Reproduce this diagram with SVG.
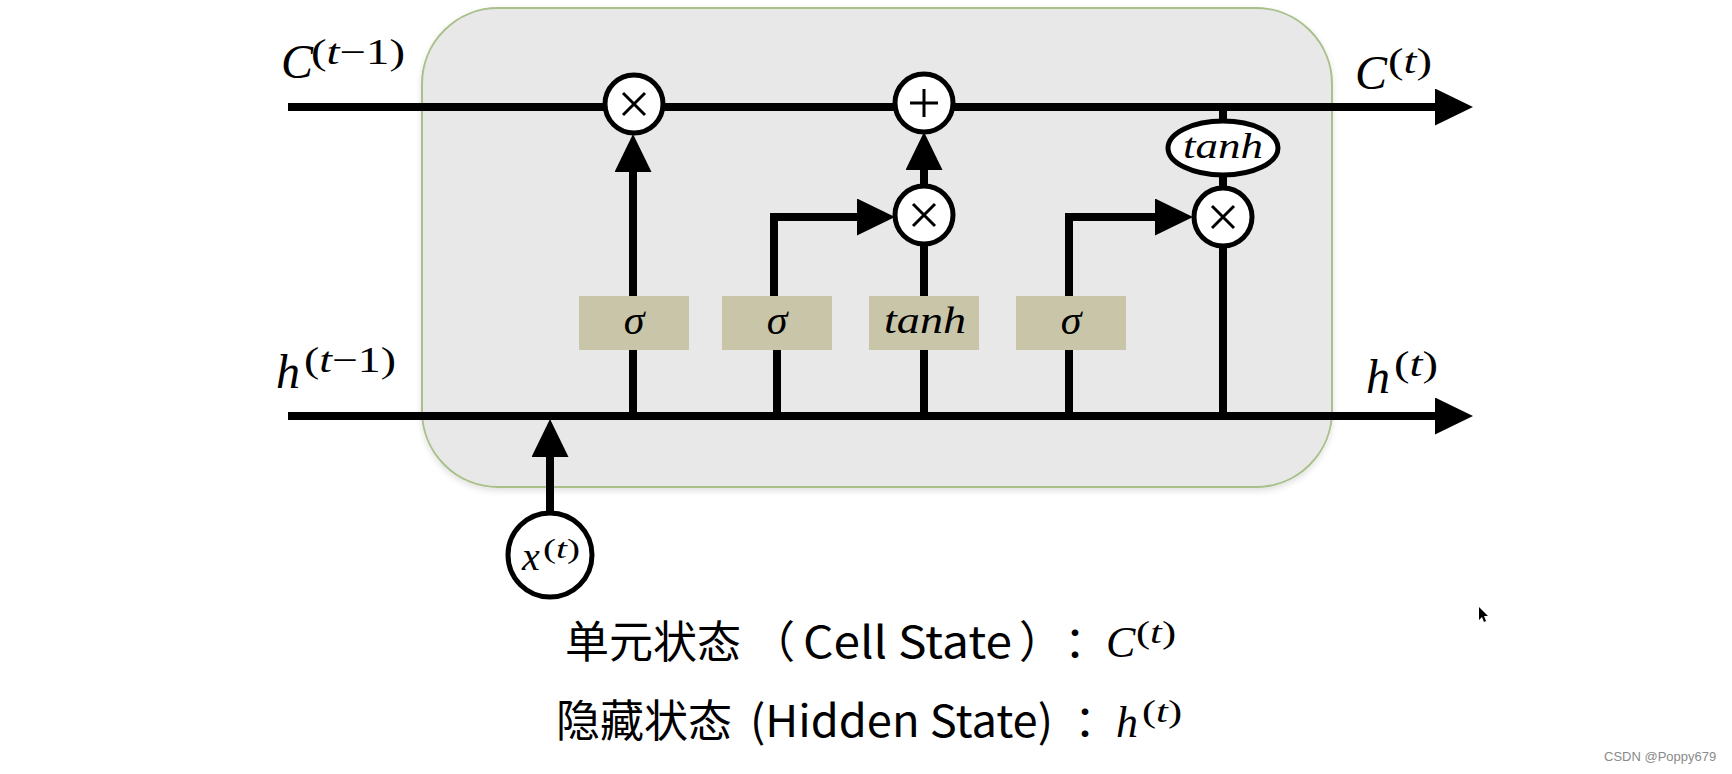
<svg xmlns="http://www.w3.org/2000/svg" width="1732" height="774" viewBox="0 0 1732 774">
<style>
.ln{stroke:#000;stroke-width:8;fill:none}
.op{fill:#fff;stroke:#000;stroke-width:5}
.sym{stroke:#000;stroke-width:3;fill:none}
.gate{fill:#c9c5a8}
.m{font-family:"Liberation Serif","DejaVu Serif",serif;font-style:italic;fill:#000}
.up{font-style:normal}
.cap{font-family:"Noto Sans CJK SC","Noto Sans",sans-serif;font-size:44px;fill:#000}
</style>
<defs>
<marker id="ah" markerUnits="userSpaceOnUse" markerWidth="40" markerHeight="40" refX="0" refY="18.5" orient="auto" viewBox="0 0 40 40">
<path d="M0,0 L38,18.5 L0,37 z" fill="#000"/>
</marker>
<filter id="sh" x="-5%" y="-5%" width="110%" height="110%">
<feDropShadow dx="0" dy="3" stdDeviation="3" flood-color="#000" flood-opacity="0.12"/>
</filter>
</defs>
<rect width="1732" height="774" fill="#fff"/>
<g id="cell">
<rect x="422" y="8" width="910" height="479" rx="76" ry="76" fill="#e8e8e8" stroke="#a9c08a" stroke-width="2" filter="url(#sh)"/>
</g>
<g id="connectors">
<path class="ln" d="M288,107 H1435" marker-end="url(#ah)"/>
<path class="ln" d="M288,416 H1435" marker-end="url(#ah)"/>
<path class="ln" d="M633,416 V172" marker-end="url(#ah)"/>
<path class="ln" d="M777,416 V340"/>
<path class="ln" d="M774,300 V217 H857" marker-end="url(#ah)"/>
<path class="ln" d="M924,416 V246"/>
<path class="ln" d="M924,188 V170" marker-end="url(#ah)"/>
<path class="ln" d="M1069,416 V340"/>
<path class="ln" d="M1069,300 V217 H1155" marker-end="url(#ah)"/>
<path class="ln" d="M1223,416 V240"/>
<path class="ln" d="M1223,190 V170"/>
<path class="ln" d="M1223,125 V107"/>
<path class="ln" d="M550,513 V457" marker-end="url(#ah)"/>
</g>
<g id="forget-mul">
<circle class="op" cx="634" cy="104" r="29"/>
<path class="sym" d="M623,93 L645,115 M645,93 L623,115"/>
</g>
<g id="add">
<circle class="op" cx="924" cy="103" r="29"/>
<path class="sym" d="M910,103 H938 M924,89 V117"/>
</g>
<g id="input-mul">
<circle class="op" cx="924" cy="215" r="29"/>
<path class="sym" d="M913,204 L935,226 M935,204 L913,226"/>
</g>
<g id="output-mul">
<circle class="op" cx="1223" cy="217" r="29"/>
<path class="sym" d="M1212,206 L1234,228 M1234,206 L1212,228"/>
</g>
<g id="tanh-out">
<ellipse class="op" cx="1223" cy="148" rx="55" ry="27"/>
<text class="m" x="1183" y="158" font-size="36" textLength="80" lengthAdjust="spacingAndGlyphs">tanh</text>
</g>
<g id="sigma-forget">
<rect class="gate" x="579" y="296" width="110" height="54"/>
<text class="m" x="634" y="334" font-size="42" text-anchor="middle">σ</text>
</g>
<g id="sigma-input">
<rect class="gate" x="722" y="296" width="110" height="54"/>
<text class="m" x="777" y="334" font-size="42" text-anchor="middle">σ</text>
</g>
<g id="tanh-cand">
<rect class="gate" x="869" y="296" width="110" height="54"/>
<text class="m" x="884" y="333" font-size="37" textLength="82" lengthAdjust="spacingAndGlyphs">tanh</text>
</g>
<g id="sigma-output">
<rect class="gate" x="1016" y="296" width="110" height="54"/>
<text class="m" x="1071" y="334" font-size="42" text-anchor="middle">σ</text>
</g>
<g id="x-input">
<circle class="op" cx="550" cy="555" r="42"/>
<text class="m" x="522" y="570" font-size="40">x</text>
<text class="m" x="543" y="558" font-size="28" textLength="37" lengthAdjust="spacingAndGlyphs"><tspan class="up">(</tspan>t<tspan class="up">)</tspan></text>
</g>
<g id="labels">
<text class="m" x="281" y="78" font-size="48">C</text>
<text class="m" x="311" y="64" font-size="35" textLength="94" lengthAdjust="spacingAndGlyphs"><tspan class="up">(</tspan>t<tspan class="up">−1)</tspan></text>
<text class="m" x="276" y="388" font-size="48">h</text>
<text class="m" x="304" y="372" font-size="35" textLength="92" lengthAdjust="spacingAndGlyphs"><tspan class="up">(</tspan>t<tspan class="up">−1)</tspan></text>
<text class="m" x="1355" y="89" font-size="48">C</text>
<text class="m" x="1388" y="73" font-size="35" textLength="44" lengthAdjust="spacingAndGlyphs"><tspan class="up">(</tspan>t<tspan class="up">)</tspan></text>
<text class="m" x="1366" y="393" font-size="48">h</text>
<text class="m" x="1394" y="376" font-size="35" textLength="44" lengthAdjust="spacingAndGlyphs"><tspan class="up">(</tspan>t<tspan class="up">)</tspan></text>
</g>
<g id="legend">
<text class="cap" y="658"><tspan x="565">单元状态</tspan><tspan x="751">（</tspan><tspan x="803" textLength="209" lengthAdjust="spacingAndGlyphs">Cell State</tspan><tspan x="1019">）</tspan><tspan x="1064">：</tspan></text>
<text class="m" x="1106" y="657" font-size="44">C</text>
<text class="m" x="1136" y="643" font-size="31" textLength="40" lengthAdjust="spacingAndGlyphs"><tspan class="up">(</tspan>t<tspan class="up">)</tspan></text>
<text class="cap" y="737"><tspan x="556">隐藏状态</tspan><tspan x="750" textLength="303" lengthAdjust="spacingAndGlyphs">(Hidden State)</tspan><tspan x="1074">：</tspan></text>
<text class="m" x="1116" y="737" font-size="44">h</text>
<text class="m" x="1142" y="722" font-size="31" textLength="40" lengthAdjust="spacingAndGlyphs"><tspan class="up">(</tspan>t<tspan class="up">)</tspan></text>
</g>
<g id="cursor">
<path d="M1479,607 L1479,620 L1482,617 L1484,622 L1486,621 L1484,616 L1488,616 z" fill="#000"/>
</g>
<text x="1604" y="761" font-family="Liberation Sans,Arial,sans-serif" font-size="13" fill="#8a8a8a">CSDN @Poppy679</text>
</svg>
